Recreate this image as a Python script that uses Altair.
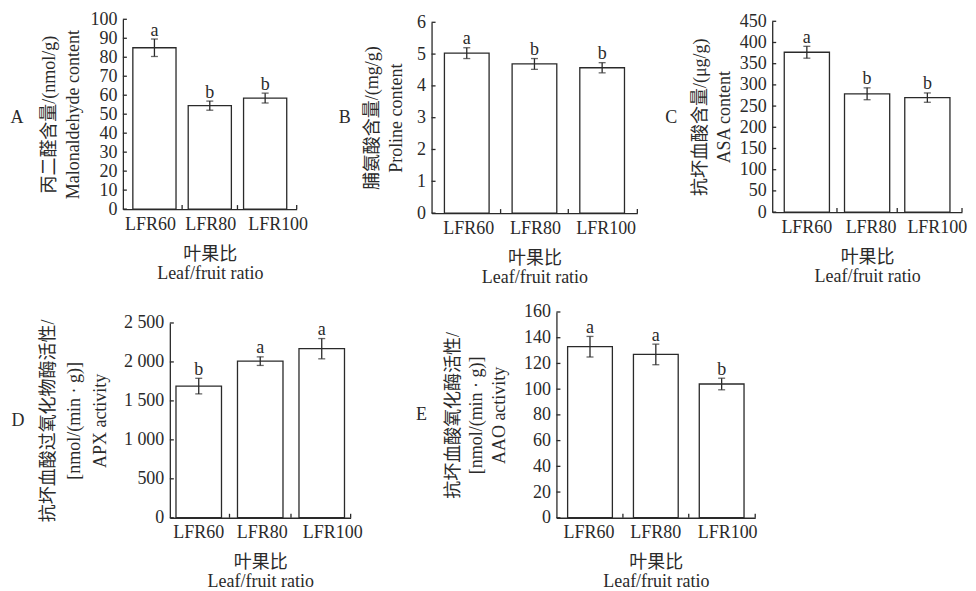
import altair as alt
import pandas as pd

CATS = ["LFR60", "LFR80", "LFR100"]
XTITLE = ["叶果比", "Leaf/fruit ratio"]

# Panel A: malonaldehyde
mda_mean = [85.0, 54.5, 58.5]
mda_se = [4.6, 2.4, 2.6]
mda_let = ["a", "b", "b"]
mda_ticks = [0, 10, 20, 30, 40, 50, 60, 70, 80, 90, 100]

# Panel B: proline
pro_mean = [5.03, 4.69, 4.57]
pro_se = [0.17, 0.17, 0.16]
pro_let = ["a", "b", "b"]
pro_ticks = [0, 1, 2, 3, 4, 5, 6]

# Panel C: ASA
asa_mean = [377, 279, 270]
asa_se = [14, 14, 11]
asa_let = ["a", "b", "b"]
asa_ticks = [0, 50, 100, 150, 200, 250, 300, 350, 400, 450]

# Panel D: APX
apx_mean = [1690, 2010, 2170]
apx_se = [100, 55, 130]
apx_let = ["b", "a", "a"]
apx_ticks = [0, 500, 1000, 1500, 2000, 2500]

# Panel E: AAO
aao_mean = [133, 127, 104]
aao_se = [8, 8, 4.5]
aao_let = ["a", "a", "b"]
aao_ticks = [0, 20, 40, 60, 80, 100, 120, 140, 160]

FONT = "Liberation Serif, Noto Sans CJK SC"
INK = "#2a2a2a"
SW = 1.3


def panel(mean, se, letters, ticks, gw, gh, x0, ytop, pi, po, ytitle, ytx, ylh,
          label, lx, ly, loff):
    df = pd.DataFrame({
        "cat": CATS,
        "mean": mean,
        "lo": [m - s for m, s in zip(mean, se)],
        "hi": [m + s for m, s in zip(mean, se)],
        "letter": letters,
    })
    xscale = alt.Scale(range=[x0, gw], paddingInner=pi, paddingOuter=po)
    yscale = alt.Scale(domain=[0, ticks[-1]], nice=False, zero=True, range=[gh, ytop])
    off_expr = "datum.value === 'LFR60' ? %g : (datum.value === 'LFR80' ? %g : %g)" % tuple(loff)
    xax = alt.Axis(title=XTITLE, labelAngle=0, ticks=False,
                   labelPadding=6, labelOffset=alt.ExprRef(off_expr),
                   titleBaseline="top", titleY=36, titleX=(x0 + gw) / 2,
                   titleLineHeight=19, domainWidth=SW)
    yax = alt.Axis(values=ticks, title=ytitle, ticks=False, labelPadding=6,
                   labelOverlap=False, offset=-x0,
                   labelExpr="replace(format(datum.value, ','), ',', ' ')",
                   titleX=ytx, titleY=(gh + ytop) / 2, titleBaseline="middle",
                   titleLineHeight=ylh, titleAngle=270, domainWidth=SW)

    def X(bp=0.5):
        return alt.X("cat:N", sort=CATS, scale=xscale, axis=xax, bandPosition=bp)

    def Y(field):
        return alt.Y(field, scale=yscale, axis=yax)

    base = alt.Chart(df)
    bars = base.mark_bar(fill="white", stroke=INK, strokeWidth=SW).encode(
        x=alt.X("cat:N", sort=CATS, scale=xscale, axis=xax), y=Y("mean:Q"))
    err = base.mark_rule(color=INK, strokeWidth=SW).encode(x=X(), y=Y("lo:Q"), y2="hi:Q")
    cap_hi = base.mark_tick(color=INK, thickness=SW, size=7).encode(x=X(), y=Y("hi:Q"))
    cap_lo = base.mark_tick(color=INK, thickness=SW, size=7).encode(x=X(), y=Y("lo:Q"))
    txt = base.mark_text(font=FONT, fontSize=18, color=INK, baseline="alphabetic", dy=-3.5).encode(
        x=X(), y=Y("hi:Q"), text="letter:N")
    # inward axis ticks
    ytk = alt.Chart(pd.DataFrame({"t": ticks})).mark_rule(color=INK, strokeWidth=SW).encode(
        y=Y("t:Q"), x=alt.value(x0), x2=alt.value(x0 + 4))
    step = (gw - x0) / (3 - pi + 2 * po)
    half_gap = step * pi / 2
    xtk = alt.Chart(pd.DataFrame({"cat": CATS[:-1]})).mark_rule(
        color=INK, strokeWidth=SW, xOffset=half_gap).encode(
        x=X(1), y=alt.value(gh), y2=alt.value(gh - 4))
    xend = alt.Chart(pd.DataFrame({"e": [0]})).mark_rule(color=INK, strokeWidth=SW).encode(
        x=alt.value(gw), y=alt.value(gh), y2=alt.value(gh - 4))
    lab = alt.Chart(pd.DataFrame({"p": [label]})).mark_text(font=FONT, fontSize=18, color=INK).encode(
        x=alt.value(lx), y=alt.value(ly), text="p:N")
    return alt.layer(bars, err, cap_hi, cap_lo, txt, ytk, xtk, xend, lab).properties(width=gw, height=gh)


# page positions: A origin (123,18), B (432,18), C (773,18), D data rect (170,323), E (557,312)
A = panel(mda_mean, mda_se, mda_let, mda_ticks, 174, 190, 0, 0, 0.22, 0.18,
          ["丙二醛含量/(nmol/g)", "Malonaldehyde content"], -73, 24, "A", -106, 99,
          [-4, 1, 13])
B = panel(pro_mean, pro_se, pro_let, pro_ticks, 206, 194, 0, 3, 0.34, 0.19,
          ["脯氨酸含量/(mg/g)", "Proline content"], -59, 24, "B", -87, 99,
          [2, 1, 4])
C = panel(asa_mean, asa_se, asa_let, asa_ticks, 190, 193, 0, 2, 0.25, 0.2,
          ["抗坏血酸含量/(μg/g)", "ASA content"], -72, 24, "C", -101, 99,
          [0, 4, 10])
D = panel(apx_mean, apx_se, apx_let, apx_ticks, 228, 206, 47, 11, 0.26, 0.1,
          ["抗坏血酸过氧化物酶活性/", "[nmol/(min · g)]", "APX activity"], -121, 26, "D", -105, 109,
          [0, 2, 11])
E = panel(aao_mean, aao_se, aao_let, aao_ticks, 199, 206, 0, 0, 0.32, 0.17,
          ["抗坏血酸氧化酶活性/", "[nmol/(min · g)]", "AAO activity"], -103, 23, "E", -135, 103,
          [-1, 0, 6])

row1 = alt.hconcat(A, B, C, spacing=135, bounds="flush")
row2 = alt.hconcat(D, E, spacing=206, bounds="flush")

chart = alt.vconcat(row1, row2, spacing=15).properties(
    padding={"left": 2, "top": 1, "right": 0, "bottom": 0},
    background="white",
).configure_view(stroke="transparent").configure_axis(
    labelFont=FONT, titleFont=FONT, labelFontSize=18, titleFontSize=18,
    titleFontWeight="normal", labelColor=INK, titleColor=INK,
    domainColor=INK, tickColor=INK, grid=False,
)

chart.save("out.html", embed_options={"renderer": "svg", "actions": False})
